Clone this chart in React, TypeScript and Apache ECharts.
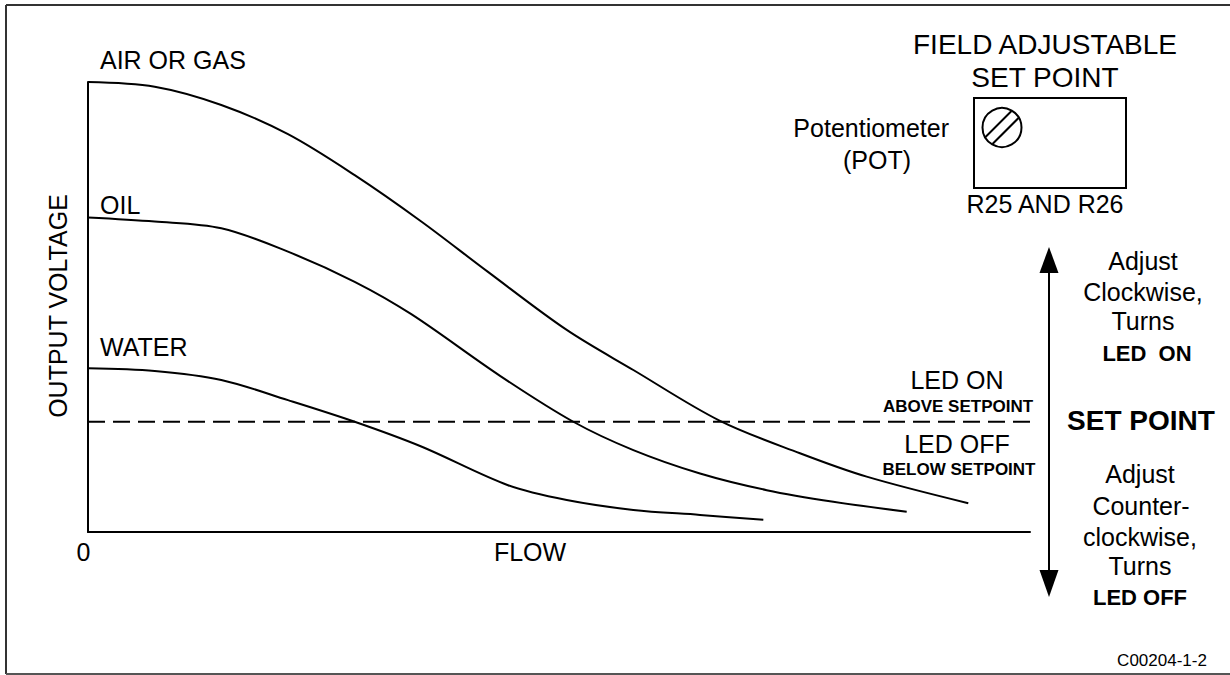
import React, { useEffect, useRef } from "react";
import * as echarts from "echarts";

// Curves: [flow, output voltage] in chart units (flow 0..100, voltage 0..100)
const airFlow = [0, 7.08, 14.15, 21.23, 28.31, 35.38, 42.46, 50.82, 57.89, 67.09, 75.58, 82.66, 93.45];
const airVolt = [100, 98.96, 94.9, 88.4, 79.3, 69.0, 57.8, 44.9, 36.0, 24.7, 17.5, 12.3, 6.4];
const oilFlow = [0, 7.08, 14.15, 21.23, 28.31, 34.32, 43.74, 51.52, 57.89, 64.97, 72.05, 79.12, 86.91];
const oilVolt = [69.9, 69.0, 67.5, 62.3, 55.6, 48.4, 34.7, 24.5, 18.2, 13.0, 9.3, 6.7, 4.5];
const waterFlow = [0, 7.08, 14.15, 21.23, 28.31, 35.38, 44.59, 50.82, 57.89, 64.97, 71.69];
const waterVolt = [36.4, 35.8, 33.8, 29.3, 24.5, 19.0, 10.4, 7.1, 4.9, 3.8, 2.7];
const setPointVolt = 24.5;
const setPointFlow = [0, 103.2];

const FONT = "Liberation Sans, Arial, Helvetica, sans-serif";

function pairs(xs: number[], ys: number[]) {
  return xs.map((x, i) => [x, ys[i]]);
}

function txt(text: string, x: number, y: number, size: number, opts: any = {}) {
  const align = opts.align || "center";
  return {
    type: "text",
    x,
    y,
    rotation: opts.rotation || 0,
    style: {
      text,
      font: `${opts.bold ? "bold " : ""}${size}px ${FONT}`,
      fill: "#000",
      align,
      textAlign: align,
      verticalAlign: "middle",
      textVerticalAlign: "middle",
    },
  };
}

export default function App() {
  const ref = useRef<HTMLDivElement>(null);
  useEffect(() => {
    if (!ref.current) return;
    const chart = echarts.init(ref.current, undefined, { renderer: "svg" });
    const curveStyle = { color: "#000", width: 2 };
    const curve = (name: string, xs: number[], ys: number[]) => ({
      name,
      type: "line",
      smooth: 0.33,
      symbol: "none",
      data: pairs(xs, ys),
      lineStyle: curveStyle,
    });
    const option: any = {
      animation: false,
      backgroundColor: "#fff",
      grid: { left: 88, top: 82, width: 942, height: 450, containLabel: false },
      xAxis: {
        type: "value",
        min: 0,
        max: 100,
        axisLine: { show: true, onZero: false, lineStyle: { color: "#000", width: 2 } },
        axisTick: { show: false },
        axisLabel: { show: false },
        splitLine: { show: false },
      },
      yAxis: {
        type: "value",
        min: 0,
        max: 100,
        axisLine: { show: true, onZero: false, lineStyle: { color: "#000", width: 2 } },
        axisTick: { show: false },
        axisLabel: { show: false },
        splitLine: { show: false },
      },
      series: [
        curve("AIR OR GAS", airFlow, airVolt),
        curve("OIL", oilFlow, oilVolt),
        curve("WATER", waterFlow, waterVolt),
        {
          name: "SET POINT",
          type: "line",
          symbol: "none",
          clip: false,
          data: setPointFlow.map((f) => [f, setPointVolt]),
          lineStyle: { color: "#000", width: 2, type: [17, 8] },
        },
      ],
      graphic: [
        // frame
        { type: "line", shape: { x1: 6, y1: 5, x2: 1230, y2: 5 }, style: { stroke: "#333", lineWidth: 2 } },
        { type: "line", shape: { x1: 6, y1: 5, x2: 6, y2: 674 }, style: { stroke: "#333", lineWidth: 2 } },
        { type: "line", shape: { x1: 6, y1: 674, x2: 1230, y2: 674 }, style: { stroke: "#555", lineWidth: 2 } },
        // curve labels
        txt("AIR OR GAS", 100, 60, 25, { align: "left" }),
        txt("OIL", 100, 205, 25, { align: "left" }),
        txt("WATER", 100, 347, 25, { align: "left" }),
        txt("OUTPUT VOLTAGE", 58, 306, 25, { rotation: Math.PI / 2 }),
        txt("0", 83.5, 552, 25),
        txt("FLOW", 530, 552, 25),
        // potentiometer
        txt("FIELD ADJUSTABLE", 1045, 44, 28),
        txt("SET POINT", 1045, 77, 28),
        txt("Potentiometer", 949, 128, 25, { align: "right" }),
        txt("(POT)", 877, 160, 25),
        { type: "rect", shape: { x: 974, y: 98, width: 152, height: 90 }, style: { fill: "none", stroke: "#000", lineWidth: 2 } },
        { type: "circle", shape: { cx: 1002, cy: 127.5, r: 19.5 }, style: { fill: "none", stroke: "#000", lineWidth: 2 } },
        { type: "line", shape: { x1: 985, y1: 137.5, x2: 1011.5, y2: 111 }, style: { stroke: "#000", lineWidth: 2 } },
        { type: "line", shape: { x1: 992.5, y1: 144, x2: 1019, y2: 117.5 }, style: { stroke: "#000", lineWidth: 2 } },
        txt("R25 AND R26", 1045, 204, 25),
        // arrow
        { type: "line", shape: { x1: 1049, y1: 265, x2: 1049, y2: 580 }, style: { stroke: "#000", lineWidth: 2 } },
        { type: "polygon", shape: { points: [[1049, 247], [1039.5, 273], [1058.5, 273]] }, style: { fill: "#000" } },
        { type: "polygon", shape: { points: [[1049, 597], [1039.5, 570], [1058.5, 570]] }, style: { fill: "#000" } },
        // right annotations
        txt("Adjust", 1143, 261, 25),
        txt("Clockwise,", 1143, 292, 25),
        txt("Turns", 1143, 321, 25),
        txt("LED  ON", 1147, 353, 22, { bold: true }),
        txt("SET POINT", 1141, 420, 28, { bold: true }),
        txt("Adjust", 1140, 474, 25),
        txt("Counter-", 1141, 506, 25),
        txt("clockwise,", 1140, 537, 25),
        txt("Turns", 1140, 566, 25),
        txt("LED OFF", 1140, 597, 22, { bold: true }),
        // setpoint annotations
        txt("LED ON", 957, 380, 25),
        txt("ABOVE SETPOINT", 958, 406, 17, { bold: true }),
        txt("LED OFF", 957, 444, 25),
        txt("BELOW SETPOINT", 959, 469, 17, { bold: true }),
        txt("C00204-1-2", 1162, 660, 17),
      ],
    };
    chart.setOption(option);
    return () => chart.dispose();
  }, []);
  return (
    <div
      ref={ref}
      style={{ position: "absolute", left: 0, top: 0, width: 1230, height: 675, background: "#fff" }}
    />
  );
}
